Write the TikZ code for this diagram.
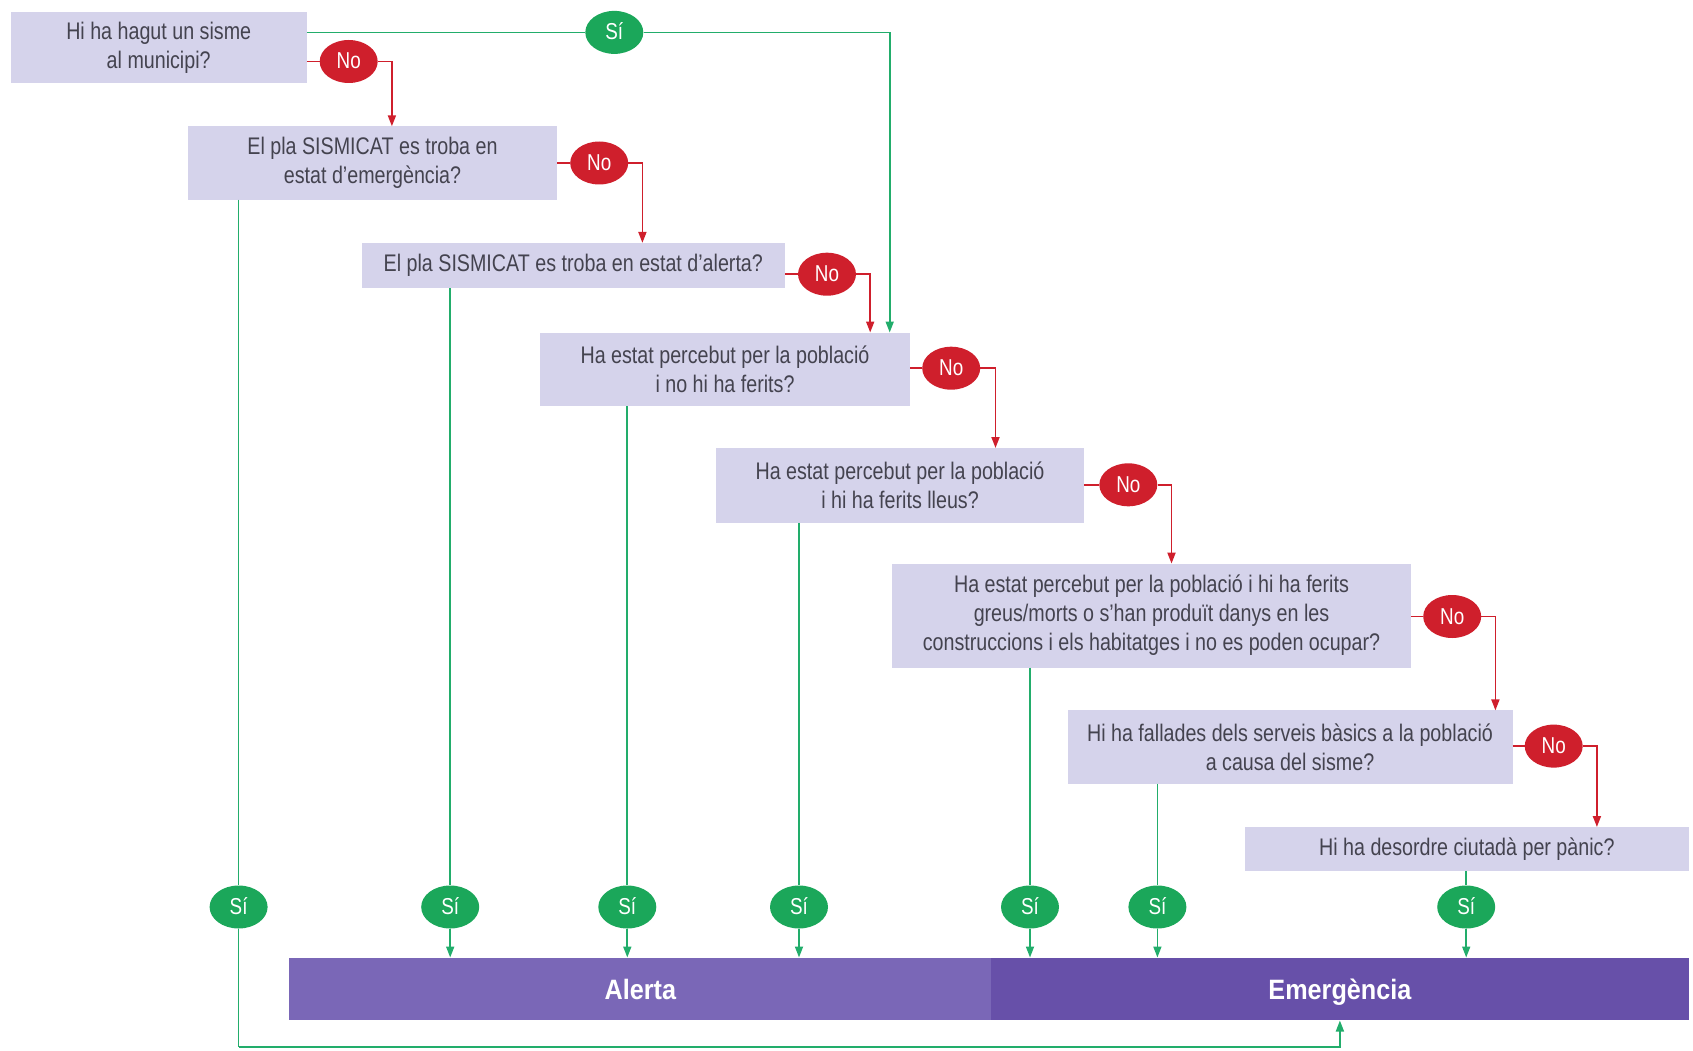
\documentclass[tikz,border=0pt]{standalone}
\usepackage{fontspec}
\setmainfont{Liberation Sans}[FakeStretch=0.82]
\newfontfamily\barfont{Liberation Sans}[FakeStretch=0.9]
\usetikzlibrary{arrows.meta,shapes.geometric}
\definecolor{boxfill}{HTML}{D5D3EB}
\definecolor{txt}{HTML}{44434F}
\definecolor{nored}{HTML}{CF1F2C}
\definecolor{sigreen}{HTML}{1BA75A}
\definecolor{lgreen}{HTML}{22AD6B}
\definecolor{alertc}{HTML}{7A67B7}
\definecolor{emerc}{HTML}{6750A9}
\begin{document}
\begin{tikzpicture}[x=1pt,y=-1pt,
  qbox/.style={rectangle, fill=boxfill, text=txt, align=center, inner sep=0pt, font=\fontsize{24}{29}\selectfont},
  nobub/.style={ellipse, fill=nored, text=white, minimum width=58pt, minimum height=43pt, inner sep=0pt, text height=16pt, text depth=1pt, font=\fontsize{23}{23}\selectfont},
  sibub/.style={ellipse, fill=sigreen, text=white, minimum width=58pt, minimum height=43pt, inner sep=0pt, text height=16pt, text depth=1pt, font=\fontsize{23}{23}\selectfont},
  barbox/.style={rectangle, text=white, inner sep=0pt, minimum height=62.6pt, text height=23pt, text depth=2pt, font=\barfont\bfseries\fontsize{28}{28}\selectfont},
  redln/.style={draw=nored, line width=1.8pt},
  grnln/.style={draw=lgreen, line width=1.7pt},
  tip/.style={-{Triangle[length=11pt,width=8pt]}}
]
\useasboundingbox (0,0) rectangle (1693,1051);

% question boxes
\node[qbox, minimum width=296pt, minimum height=71pt] (b1) at (158.7,47.5) {Hi ha hagut un sisme\\al municipi?};
\node[qbox, minimum width=369pt, minimum height=73pt] (b2) at (372.5,163) {El pla SISMICAT es troba en\\estat d’emergència?};
\node[qbox, minimum width=423pt, minimum height=45pt] (b3) at (573.3,265.6) {El pla SISMICAT es troba en estat d’alerta?};
\node[qbox, minimum width=370pt, minimum height=73.5pt] (b4) at (725,369.3) {Ha estat percebut per la població\\i no hi ha ferits?};
\node[qbox, minimum width=368pt, minimum height=74.5pt] (b5) at (900,485.3) {Ha estat percebut per la població\\i hi ha ferits lleus?};
\node[qbox, minimum width=519pt, minimum height=104pt] (b6) at (1151.5,615.5) {Ha estat percebut per la població i hi ha ferits\\greus/morts o s’han produït danys en les\\construccions i els habitatges i no es poden ocupar?};
\node[qbox, minimum width=445pt, minimum height=73.5pt] (b7) at (1290,747) {Hi ha fallades dels serveis bàsics a la població\\a causa del sisme?};
\node[qbox, minimum width=444pt, minimum height=44pt] (b8) at (1466.8,849) {Hi ha desordre ciutadà per pànic?};

% result bar
\node[barbox, fill=alertc, minimum width=701.8pt] (alerta) at (640.3,989) {Alerta};
\node[barbox, fill=emerc, minimum width=697.4pt] (emerg) at (1339.9,989) {Emergència};

% No bubbles
\node[nobub] (n1) at (348.7,61.5) {No};
\node[nobub] (n2) at (599.2,163) {No};
\node[nobub] (n3) at (827,274.2) {No};
\node[nobub] (n4) at (951.2,368.2) {No};
\node[nobub] (n5) at (1128.3,484.8) {No};
\node[nobub] (n6) at (1452.2,616.5) {No};
\node[nobub] (n7) at (1553.7,746.1) {No};

% Si bubbles
\node[sibub] (s0) at (614.3,32.4) {Sí};
\node[sibub] (s1) at (238.6,907) {Sí};
\node[sibub] (s2) at (450.2,907) {Sí};
\node[sibub] (s3) at (627.3,907) {Sí};
\node[sibub] (s4) at (799,907) {Sí};
\node[sibub] (s5) at (1030,907) {Sí};
\node[sibub] (s6) at (1157.4,907) {Sí};
\node[sibub] (s7) at (1466.2,907) {Sí};

% targets of red arrows
\coordinate (t2) at (391.9,126.3);
\coordinate (t3) at (642.4,242.9);
\coordinate (t4) at (870.2,332.5);
\coordinate (t5) at (995.5,448);
\coordinate (t6) at (1171.5,563.6);
\coordinate (t7) at (1495.4,710.4);
\coordinate (t8) at (1596.9,827);
\coordinate (t4g) at (889.7,332.5);
\coordinate (loop) at (238.6,1047.3);

% red No connectors
\draw[redln] (b1.east |- n1) -- (n1.west);
\draw[redln,tip] (n1.east) -| (t2);
\draw[redln] (b2.east |- n2) -- (n2.west);
\draw[redln,tip] (n2.east) -| (t3);
\draw[redln] (b3.east |- n3) -- (n3.west);
\draw[redln,tip] (n3.east) -| (t4);
\draw[redln] (b4.east |- n4) -- (n4.west);
\draw[redln,tip] (n4.east) -| (t5);
\draw[redln] (b5.east |- n5) -- (n5.west);
\draw[redln,tip] (n5.east) -| (t6);
\draw[redln] (b6.east |- n6) -- (n6.west);
\draw[redln,tip] (n6.east) -| (t7);
\draw[redln] (b7.east |- n7) -- (n7.west);
\draw[redln,tip] (n7.east) -| (t8);

% green Si connectors
\draw[grnln] (b1.east |- s0) -- (s0.west);
\draw[grnln,tip] (s0.east) -| (t4g);

\draw[grnln] (b2.south -| s1) -- (s1.north);
\draw[grnln] (s1.south) -- (loop);
\draw[grnln,tip] (loop) -| (emerg.south);

\draw[grnln] (b3.south -| s2) -- (s2.north);
\draw[grnln,tip] (s2.south) -- (s2.south |- alerta.north);
\draw[grnln] (b4.south -| s3) -- (s3.north);
\draw[grnln,tip] (s3.south) -- (s3.south |- alerta.north);
\draw[grnln] (b5.south -| s4) -- (s4.north);
\draw[grnln,tip] (s4.south) -- (s4.south |- alerta.north);
\draw[grnln] (b6.south -| s5) -- (s5.north);
\draw[grnln,tip] (s5.south) -- (s5.south |- emerg.north);
\draw[grnln] (b7.south -| s6) -- (s6.north);
\draw[grnln,tip] (s6.south) -- (s6.south |- emerg.north);
\draw[grnln] (b8.south -| s7) -- (s7.north);
\draw[grnln,tip] (s7.south) -- (s7.south |- emerg.north);
\end{tikzpicture}
\end{document}
